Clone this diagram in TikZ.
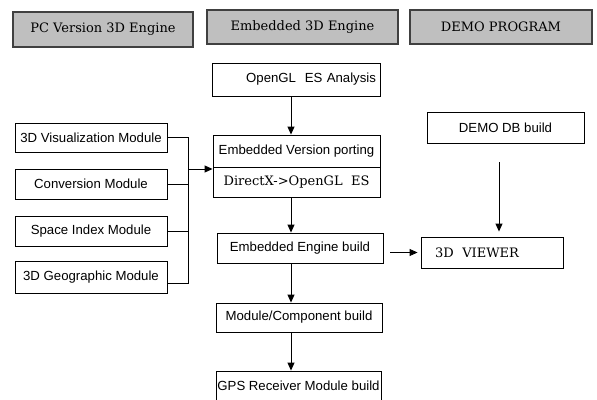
\documentclass[tikz,border=0pt]{standalone}
\usepackage{fontspec}
\setmainfont{DejaVu Serif}
\setsansfont{Liberation Sans}
\usetikzlibrary{arrows.meta}

\begin{document}
\begin{tikzpicture}[x=1pt,y=-1pt]
\tikzstyle{every node}+=[inner sep=0pt]
\tikzstyle{headbox}=[draw=black!75,line width=1.4pt,fill=gray!50,font=\fontsize{13}{15}\selectfont]
\tikzstyle{plainbox}=[draw=black,line width=0.9pt,fill=white,font=\sffamily\fontsize{13.2}{15}\selectfont]
\tikzstyle{wire}=[black,line width=0.9pt]
\tikzstyle{flow}=[wire,-{Triangle[length=8pt,width=7pt]}]
\useasboundingbox (0,0) rectangle (597,399);
% column titles
\node[headbox,minimum width=180pt,minimum height=35pt] (pchead) at (103,29.5) {PC Version 3D Engine};
\node[headbox,minimum width=191pt,minimum height=34pt] (embhead) at (302.5,27) {Embedded 3D Engine};
\node[headbox,minimum width=182pt,minimum height=34pt] (demohead) at (501,27) {DEMO PROGRAM};
% left column
\node[plainbox,minimum width=152pt,minimum height=29pt] (vismod) at (91,137.5) {3D Visualization Module};
\node[plainbox,minimum width=152pt,minimum height=30pt] (convmod) at (91,184) {Conversion Module};
\node[plainbox,minimum width=152pt,minimum height=30pt] (spacemod) at (91,231) {Space Index Module};
\node[plainbox,minimum width=152pt,minimum height=32pt] (geomod) at (91,277) {3D Geographic Module};
% middle column
\node[plainbox,minimum width=168pt,minimum height=33pt,text width=160pt,inner xsep=4pt,align=right] (glanalysis) at (296,79.5) {OpenGL\ \ ES Analysis};
\node[plainbox,minimum width=167pt,minimum height=32pt] (porttop) at (296.5,151) {Embedded Version porting};
\node[plainbox,minimum width=167pt,minimum height=30pt,font=\fontsize{13}{15}\selectfont] (portbot) at (296.5,182) {DirectX->OpenGL\ \ ES};
\node[plainbox,minimum width=166pt,minimum height=30pt] (enginebuild) at (300,248) {Embedded Engine build};
\node[plainbox,minimum width=166pt,minimum height=29pt] (compbuild) at (299,317.5) {Module/Component build};
\node[plainbox,minimum width=165pt,minimum height=30pt] (gpsbuild) at (298.5,386) {GPS Receiver Module build};
% right column
\node[plainbox,minimum width=157pt,minimum height=31pt] (demodb) at (505.5,127.5) {DEMO DB build};
\node[plainbox,minimum height=31pt,text width=114pt,inner xsep=14pt,align=left,font=\fontsize{13}{15}\selectfont] (viewer) at (492,252.5) {3D\ \ VIEWER};
\coordinate (spine) at (291,0);
\coordinate (demospine) at (499,0);
\coordinate (bus) at (188,169);
% connectors
\draw[wire] (vismod.east) -| (bus);
\draw[wire] (convmod.east) -| (bus);
\draw[wire] (spacemod.east) -| (bus);
\draw[wire] ([yshift=-6pt]geomod.east) -| (bus);
\draw[flow] (bus) -- (bus -| porttop.west);
\draw[flow] (glanalysis.south -| spine) -- (porttop.north -| spine);
\draw[flow] (portbot.south -| spine) -- (enginebuild.north -| spine);
\draw[flow] (enginebuild.south -| spine) -- (compbuild.north -| spine);
\draw[flow] (compbuild.south -| spine) -- (gpsbuild.north -| spine);
\draw[flow,shorten <=7pt,shorten >=3pt] (enginebuild.east |- viewer.west) -- (viewer.west);
\draw[flow,shorten <=19pt,shorten >=5pt] (demodb.south -| demospine) -- (viewer.north -| demospine);
\end{tikzpicture}
\end{document}
